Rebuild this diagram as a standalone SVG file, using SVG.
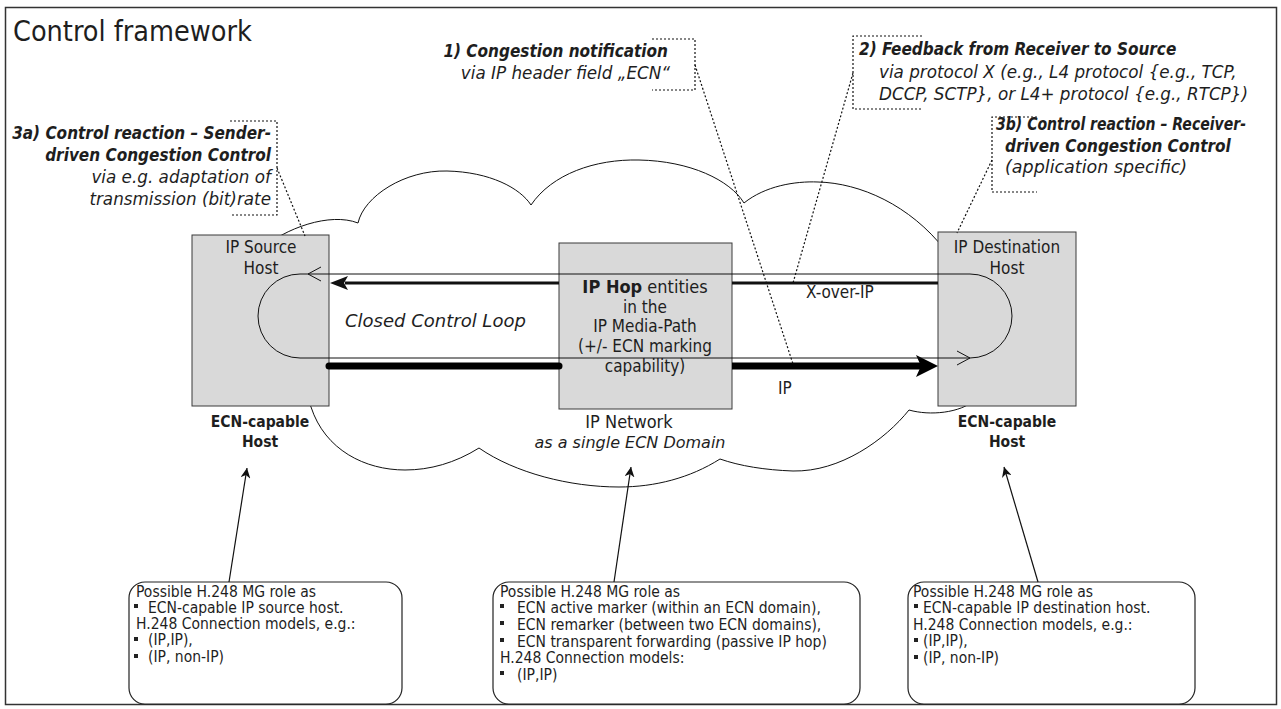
<svg xmlns="http://www.w3.org/2000/svg" width="1281" height="709" viewBox="0 0 1281 709">
<style>
text{font-family:"DejaVu Sans Condensed","DejaVu Sans","Liberation Sans",sans-serif;font-stretch:condensed;fill:#1e1e1e}
.t17{font-size:17px}
.t15{font-size:15.5px}
.bi{font-weight:bold;font-style:italic;font-size:17px}
.it{font-family:"DejaVu Sans","Liberation Sans",sans-serif;font-stretch:normal;font-style:italic;font-size:16.8px}
.b{font-weight:bold}
.host{fill:#d9d9d9;stroke:#3a3a3a;stroke-width:1}
.dot{fill:none;stroke:#111;stroke-width:1.2;stroke-dasharray:2 2}
.thin{fill:none;stroke:#111;stroke-width:1}
.rbox{fill:#fff;stroke:#222;stroke-width:1.2}
.bul{fill:#222}
</style>
<defs>
<marker id="ah" viewBox="0 0 10 10" refX="10" refY="5" markerWidth="10" markerHeight="10" markerUnits="userSpaceOnUse" orient="auto">
<path d="M0,0 L10,5 L0,10 L3,5 Z" fill="#111"/>
</marker>
</defs>
<rect x="5.5" y="7.5" width="1271" height="697" fill="#fff" stroke="#333" stroke-width="1.5"/>
<text x="13" y="41" style="font-size:28.5px">Control framework</text>

<g id="cloud">
<path class="thin" fill="none" d="M260,250 C285,228 330,212 358,223 C364,196 405,170 447,171 C490,172 520,188 531,205 C552,174 595,159 639,160 C690,161 730,180 744,203 C765,186 795,181 818,182 C860,183 910,205 945,250 L1000,330 L975,400 C960,413 930,416 909,410 C885,440 840,472 793,471 C765,470 740,466 720,459 C690,478 655,487 619,487 C570,487 515,473 479,448 C455,463 430,470 405,470 C365,470 325,450 311,407 L300,380 Z"/>
</g>

<g id="source-host">
<rect class="host" x="192" y="235" width="137" height="171"/>
<text class="t17" x="261" y="253" text-anchor="middle">IP Source</text>
<text class="t17" x="261" y="274" text-anchor="middle">Host</text>
<text class="t15 b" x="260" y="427" text-anchor="middle">ECN-capable</text>
<text class="t15 b" x="260" y="447" text-anchor="middle">Host</text>
</g>

<g id="ip-hop">
<rect class="host" x="559" y="243" width="173" height="166"/>
<text x="645" y="293" text-anchor="middle" style="font-size:18px"><tspan font-weight="bold">IP Hop</tspan> entities</text>
<text class="t17" x="645" y="313" text-anchor="middle">in the</text>
<text class="t17" x="645" y="332" text-anchor="middle">IP Media-Path</text>
<text class="t17" x="645" y="352" text-anchor="middle">(+/- ECN marking</text>
<text class="t17" x="645" y="372" text-anchor="middle">capability)</text>
<text x="629" y="428" text-anchor="middle" style="font-size:18px">IP Network</text>
<text class="it" x="630" y="448" text-anchor="middle" style="font-size:16px">as a single ECN Domain</text>
</g>

<g id="dest-host">
<rect class="host" x="938" y="232" width="138" height="174"/>
<text class="t17" x="1007" y="253" text-anchor="middle">IP Destination</text>
<text class="t17" x="1007" y="274" text-anchor="middle">Host</text>
<text class="t15 b" x="1007" y="427" text-anchor="middle">ECN-capable</text>
<text class="t15 b" x="1007" y="447" text-anchor="middle">Host</text>
</g>

<g id="note-3a">
<path class="dot" d="M230,121 H277 V215 H232"/>
<text class="bi" x="271" y="139" text-anchor="end">3a) Control reaction – Sender-</text>
<text class="bi" x="271" y="161" text-anchor="end">driven Congestion Control</text>
<text class="it" x="271" y="183" text-anchor="end">via e.g. adaptation of</text>
<text class="it" x="271" y="205" text-anchor="end">transmission (bit)rate</text>
</g>

<g id="note-1">
<path class="dot" d="M652,39 H695 V90 H652"/>
<text class="bi" x="668" y="57" text-anchor="end">1) Congestion notification</text>
<text class="it" x="670" y="79" text-anchor="end">via IP header field „ECN“</text>
</g>

<g id="note-2">
<path class="dot" d="M922,36 H853 V109 H922"/>
<text class="bi" x="859" y="55">2) Feedback from Receiver to Source</text>
<text class="it" x="879" y="78">via protocol X (e.g., L4 protocol {e.g., TCP,</text>
<text class="it" x="879" y="100">DCCP, SCTP}, or L4+ protocol {e.g., RTCP})</text>
</g>

<g id="note-3b">
<path class="dot" d="M1037,117 H992 V192 H1037"/>
<text class="bi" x="996" y="130" textLength="250" lengthAdjust="spacingAndGlyphs">3b) Control reaction – Receiver-</text>
<text class="bi" x="1005" y="152">driven Congestion Control</text>
<text class="it" x="1005" y="173" style="font-size:17.5px">(application specific)</text>
</g>

<g id="box-left">
<rect class="rbox" x="129" y="582" width="273" height="122" rx="16"/>
<text class="t15" x="136" y="597">Possible H.248 MG role as</text>
<rect class="bul" x="134" y="604" width="4" height="4"/>
<text class="t15" x="148" y="613">ECN-capable IP source host.</text>
<text class="t15" x="136" y="629">H.248 Connection models, e.g.:</text>
<rect class="bul" x="134" y="637" width="4" height="4"/>
<text class="t15" x="148" y="645">(IP,IP),</text>
<rect class="bul" x="134" y="654" width="4" height="4"/>
<text class="t15" x="148" y="662">(IP, non-IP)</text>
</g>

<g id="box-center">
<rect class="rbox" x="493" y="582" width="367" height="122" rx="16"/>
<text class="t15" x="500" y="597">Possible H.248 MG role as</text>
<rect class="bul" x="500" y="604" width="4" height="4"/>
<text class="t15" x="517" y="613">ECN active marker (within an ECN domain),</text>
<rect class="bul" x="500" y="621" width="4" height="4"/>
<text class="t15" x="517" y="630">ECN remarker (between two ECN domains),</text>
<rect class="bul" x="500" y="638" width="4" height="4"/>
<text class="t15" x="517" y="647">ECN transparent forwarding (passive IP hop)</text>
<text class="t15" x="500" y="663">H.248 Connection models:</text>
<rect class="bul" x="500" y="671" width="4" height="4"/>
<text class="t15" x="517" y="680">(IP,IP)</text>
</g>

<g id="box-right">
<rect class="rbox" x="908" y="582" width="287" height="122" rx="16"/>
<text class="t15" x="913" y="597">Possible H.248 MG role as</text>
<rect class="bul" x="914" y="604" width="4" height="4"/>
<text class="t15" x="923" y="613">ECN-capable IP destination host.</text>
<text class="t15" x="913" y="630">H.248 Connection models, e.g.:</text>
<rect class="bul" x="914" y="638" width="4" height="4"/>
<text class="t15" x="923" y="646">(IP,IP),</text>
<rect class="bul" x="914" y="655" width="4" height="4"/>
<text class="t15" x="923" y="663">(IP, non-IP)</text>
</g>

<g id="connectors">
<line x1="345" y1="283" x2="559" y2="283" stroke="#111" stroke-width="3"/>
<line x1="732" y1="283" x2="938" y2="283" stroke="#111" stroke-width="3"/>
<polygon points="330,283 348,276 344,283 348,290" fill="#111"/>
<line x1="329" y1="366" x2="559" y2="366" stroke="#000" stroke-width="7" stroke-linecap="round"/>
<line x1="732" y1="366" x2="921" y2="366" stroke="#000" stroke-width="7"/>
<polygon points="938,366 916,355 921,366 916,377" fill="#000"/>
<path class="thin" d="M300,358 L970,358 A42,42 0 0 0 970,274 L300,274 A42,42 0 0 0 300,358"/>
<path class="thin" d="M957,351 L970,358 L957,365"/>
<path class="thin" d="M321,267 L308,274 L321,281"/>
<path class="dot" d="M277,168 L305,236"/>
<path class="dot" d="M695,65 L793,364"/>
<path class="dot" d="M853,73 L793,283"/>
<path class="dot" d="M992,160 L957,233"/>
<line x1="229" y1="582" x2="247" y2="468" stroke="#111" stroke-width="1.2" marker-end="url(#ah)"/>
<line x1="614" y1="582" x2="631" y2="467" stroke="#111" stroke-width="1.2" marker-end="url(#ah)"/>
<line x1="1038" y1="582" x2="1004" y2="467" stroke="#111" stroke-width="1.2" marker-end="url(#ah)"/>
</g>

<text class="it" x="345" y="327" style="font-size:18px">Closed Control Loop</text>
<text class="t17" x="806" y="298">X-over-IP</text>
<text class="t17" x="778" y="394">IP</text>
</svg>
